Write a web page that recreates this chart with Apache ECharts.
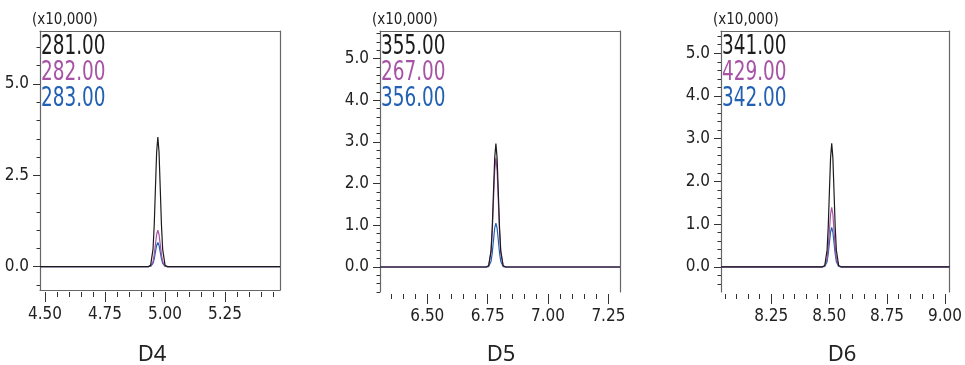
<!DOCTYPE html>
<html>
<head>
<meta charset="utf-8">
<script src="https://cdn.jsdelivr.net/npm/echarts@6/dist/echarts.min.js"></script>
<style>
  html, body { margin: 0; padding: 0; background: #fff; }
  #chart { width: 965px; height: 365px; }
</style>
</head>
<body>
<div id="chart"></div>
<script>
// D4 — retention time (min) and intensity (x10,000)
const d4Time = [4.479, 4.930, 4.940, 4.950, 4.955, 4.960, 4.965, 4.970, 4.975, 4.980, 4.985, 4.990, 5.000, 5.010, 5.479]
const d4Ion281 = [0, 0, 0.04, 0.48, 1.15, 2.15, 3.13, 3.55, 3.13, 2.15, 1.15, 0.48, 0.04, 0, 0]
const d4Ion282 = [0, 0, 0.01, 0.14, 0.33, 0.61, 0.88, 1.00, 0.88, 0.61, 0.33, 0.14, 0.01, 0, 0]
const d4Ion283 = [0, 0, 0.01, 0.09, 0.21, 0.40, 0.58, 0.66, 0.58, 0.40, 0.21, 0.09, 0.01, 0, 0]

// D5
const d5Time = [6.304, 6.744, 6.754, 6.764, 6.769, 6.774, 6.779, 6.784, 6.789, 6.794, 6.799, 6.804, 6.814, 6.824, 7.298]
const d5Ion355 = [0, 0, 0.03, 0.40, 0.96, 1.80, 2.61, 2.96, 2.61, 1.80, 0.96, 0.40, 0.03, 0, 0]
const d5Ion267 = [0, 0, 0.03, 0.35, 0.85, 1.59, 2.31, 2.62, 2.31, 1.59, 0.85, 0.35, 0.03, 0, 0]
const d5Ion356 = [0, 0, 0.01, 0.14, 0.34, 0.64, 0.93, 1.05, 0.93, 0.64, 0.34, 0.14, 0.01, 0, 0]

// D6
const d6Time = [8.033, 8.471, 8.481, 8.491, 8.496, 8.501, 8.506, 8.511, 8.516, 8.521, 8.526, 8.531, 8.541, 8.551, 9.020]
const d6Ion341 = [0, 0, 0.03, 0.39, 0.94, 1.75, 2.55, 2.89, 2.55, 1.75, 0.94, 0.39, 0.03, 0, 0]
const d6Ion429 = [0, 0, 0.02, 0.19, 0.45, 0.84, 1.23, 1.39, 1.23, 0.84, 0.45, 0.19, 0.02, 0, 0]
const d6Ion342 = [0, 0, 0.01, 0.12, 0.30, 0.56, 0.81, 0.92, 0.81, 0.56, 0.30, 0.12, 0.01, 0, 0]

// tick labels
const d4XTicks = [4.50, 4.75, 5.00, 5.25]
const d5XTicks = [6.50, 6.75, 7.00, 7.25]
const d6XTicks = [8.25, 8.50, 8.75, 9.00]
const d4YTicks = [0, 2.5, 5.0]
const d5YTicks = [0, 1, 2, 3, 4, 5]
const d6YTicks = [0, 1, 2, 3, 4, 5]

const BLACK = '#1c1c1c'
const PURPLE = '#a653a6'
const BLUE = '#2160b2'
const NARROW = '"DejaVu Sans Condensed", "Liberation Sans Narrow", sans-serif'

// minor tick positions
function steps(from, to, step) {
  const out = []
  for (let v = from; v <= to + 1e-9; v += step) out.push(Math.round(v * 1000) / 1000)
  return out
}

const panels = [
  {
    title: 'D4', titleX: 152, time: d4Time,
    ions: [['281.00', BLACK, d4Ion281], ['282.00', PURPLE, d4Ion282], ['283.00', BLUE, d4Ion283]],
    xMin: 4.479, xMax: 5.479, yMin: -0.64, yMax: 6.45,
    xMajor: d4XTicks, xMinor: steps(4.50, 5.45, 0.05),
    yMajor: d4YTicks, yMinor: steps(-0.5, 6.0, 0.5),
    grid: { left: 40, top: 31, width: 240, height: 259 }, boxBottom: true,
  },
  {
    title: 'D5', titleX: 501, time: d5Time,
    ions: [['355.00', BLACK, d5Ion355], ['267.00', PURPLE, d5Ion267], ['356.00', BLUE, d5Ion356]],
    xMin: 6.304, xMax: 7.298, yMin: -0.6, yMax: 5.66,
    xMajor: d5XTicks, xMinor: steps(6.35, 7.25, 0.05),
    yMajor: d5YTicks, yMinor: steps(-0.6, 5.6, 0.2),
    grid: { left: 380, top: 31, width: 240, height: 261 }, boxBottom: false,
  },
  {
    title: 'D6', titleX: 842, time: d6Time,
    ions: [['341.00', BLACK, d6Ion341], ['429.00', PURPLE, d6Ion429], ['342.00', BLUE, d6Ion342]],
    xMin: 8.033, xMax: 9.02, yMin: -0.59, yMax: 5.52,
    xMajor: d6XTicks, xMinor: steps(8.05, 9.00, 0.05),
    yMajor: d6YTicks, yMinor: steps(-0.4, 5.4, 0.2),
    grid: { left: 721, top: 31, width: 239, height: 261 }, boxBottom: false,
  },
]

const chart = echarts.init(document.getElementById('chart'))
const grid = [], xAxis = [], yAxis = [], series = [], graphic = []
const tickStyle = { color: '#333', width: 1 }
const frame = { show: true, onZero: false, lineStyle: { color: '#666', width: 1.2 } }

panels.forEach((p, i) => {
  grid.push(p.grid)
  const xBase = { gridIndex: i, type: 'value', min: p.xMin, max: p.xMax, splitLine: { show: false } }
  const yBase = { gridIndex: i, type: 'value', min: p.yMin, max: p.yMax, splitLine: { show: false } }

  const xMain = xAxis.length
  xAxis.push({
    ...xBase, position: 'bottom', offset: 2,
    axisLine: { show: false, onZero: false },
    axisTick: { customValues: p.xMajor, length: 10, lineStyle: tickStyle },
    axisLabel: {
      customValues: p.xMajor, margin: 14, formatter: v => v.toFixed(2),
      fontFamily: NARROW, fontSize: 17, color: '#222',
    },
  })
  xAxis.push({
    ...xBase, position: 'bottom', offset: 2,
    axisLine: { show: false, onZero: false },
    axisTick: { customValues: p.xMinor, length: 5, lineStyle: tickStyle },
    axisLabel: { show: false },
  })
  xAxis.push({ ...xBase, position: 'top', axisLine: frame, axisTick: { show: false }, axisLabel: { show: false } })
  if (p.boxBottom) {
    xAxis.push({ ...xBase, position: 'bottom', axisLine: frame, axisTick: { show: false }, axisLabel: { show: false } })
  }

  const yMain = yAxis.length
  yAxis.push({
    ...yBase, position: 'left',
    name: '(x10,000)', nameLocation: 'end', nameGap: 3,
    nameTextStyle: { fontFamily: NARROW, fontSize: 15, color: '#222', align: 'left', padding: [0, 0, 0, -8] },
    axisLine: frame,
    axisTick: { customValues: p.yMajor, length: 7, lineStyle: tickStyle },
    axisLabel: {
      customValues: p.yMajor, margin: 11, formatter: v => v.toFixed(1),
      fontFamily: NARROW, fontSize: 17, color: '#222',
    },
  })
  yAxis.push({
    ...yBase, position: 'left',
    axisLine: { show: false, onZero: false },
    axisTick: { customValues: p.yMinor, length: 3.5, lineStyle: tickStyle },
    axisLabel: { show: false },
  })
  yAxis.push({ ...yBase, position: 'right', axisLine: frame, axisTick: { show: false }, axisLabel: { show: false } })

  // black trace drawn last so it sits on top
  p.ions.slice().reverse().forEach(([name, color, values]) => {
    series.push({
      name, type: 'line', xAxisIndex: xMain, yAxisIndex: yMain,
      data: p.time.map((t, k) => [t, values[k]]),
      showSymbol: false, silent: true, animation: false,
      lineStyle: { color, width: 1.2 }, itemStyle: { color },
    })
  })

  // ion labels, squeezed to match the condensed face of the original
  p.ions.forEach(([name, color], k) => {
    graphic.push({
      type: 'text', x: p.grid.left + 1, y: 47 + k * 26, scaleX: 0.76,
      style: { text: name, fill: color, verticalAlign: 'middle', font: '27px ' + NARROW },
    })
  })

  graphic.push({
    type: 'text', x: p.titleX, y: 355,
    style: { text: p.title, align: 'center', verticalAlign: 'middle', font: '22px "Noto Sans", "Open Sans", sans-serif', fill: '#222' },
  })
})

chart.setOption({ animation: false, grid, xAxis, yAxis, series, graphic })
</script>
</body>
</html>
